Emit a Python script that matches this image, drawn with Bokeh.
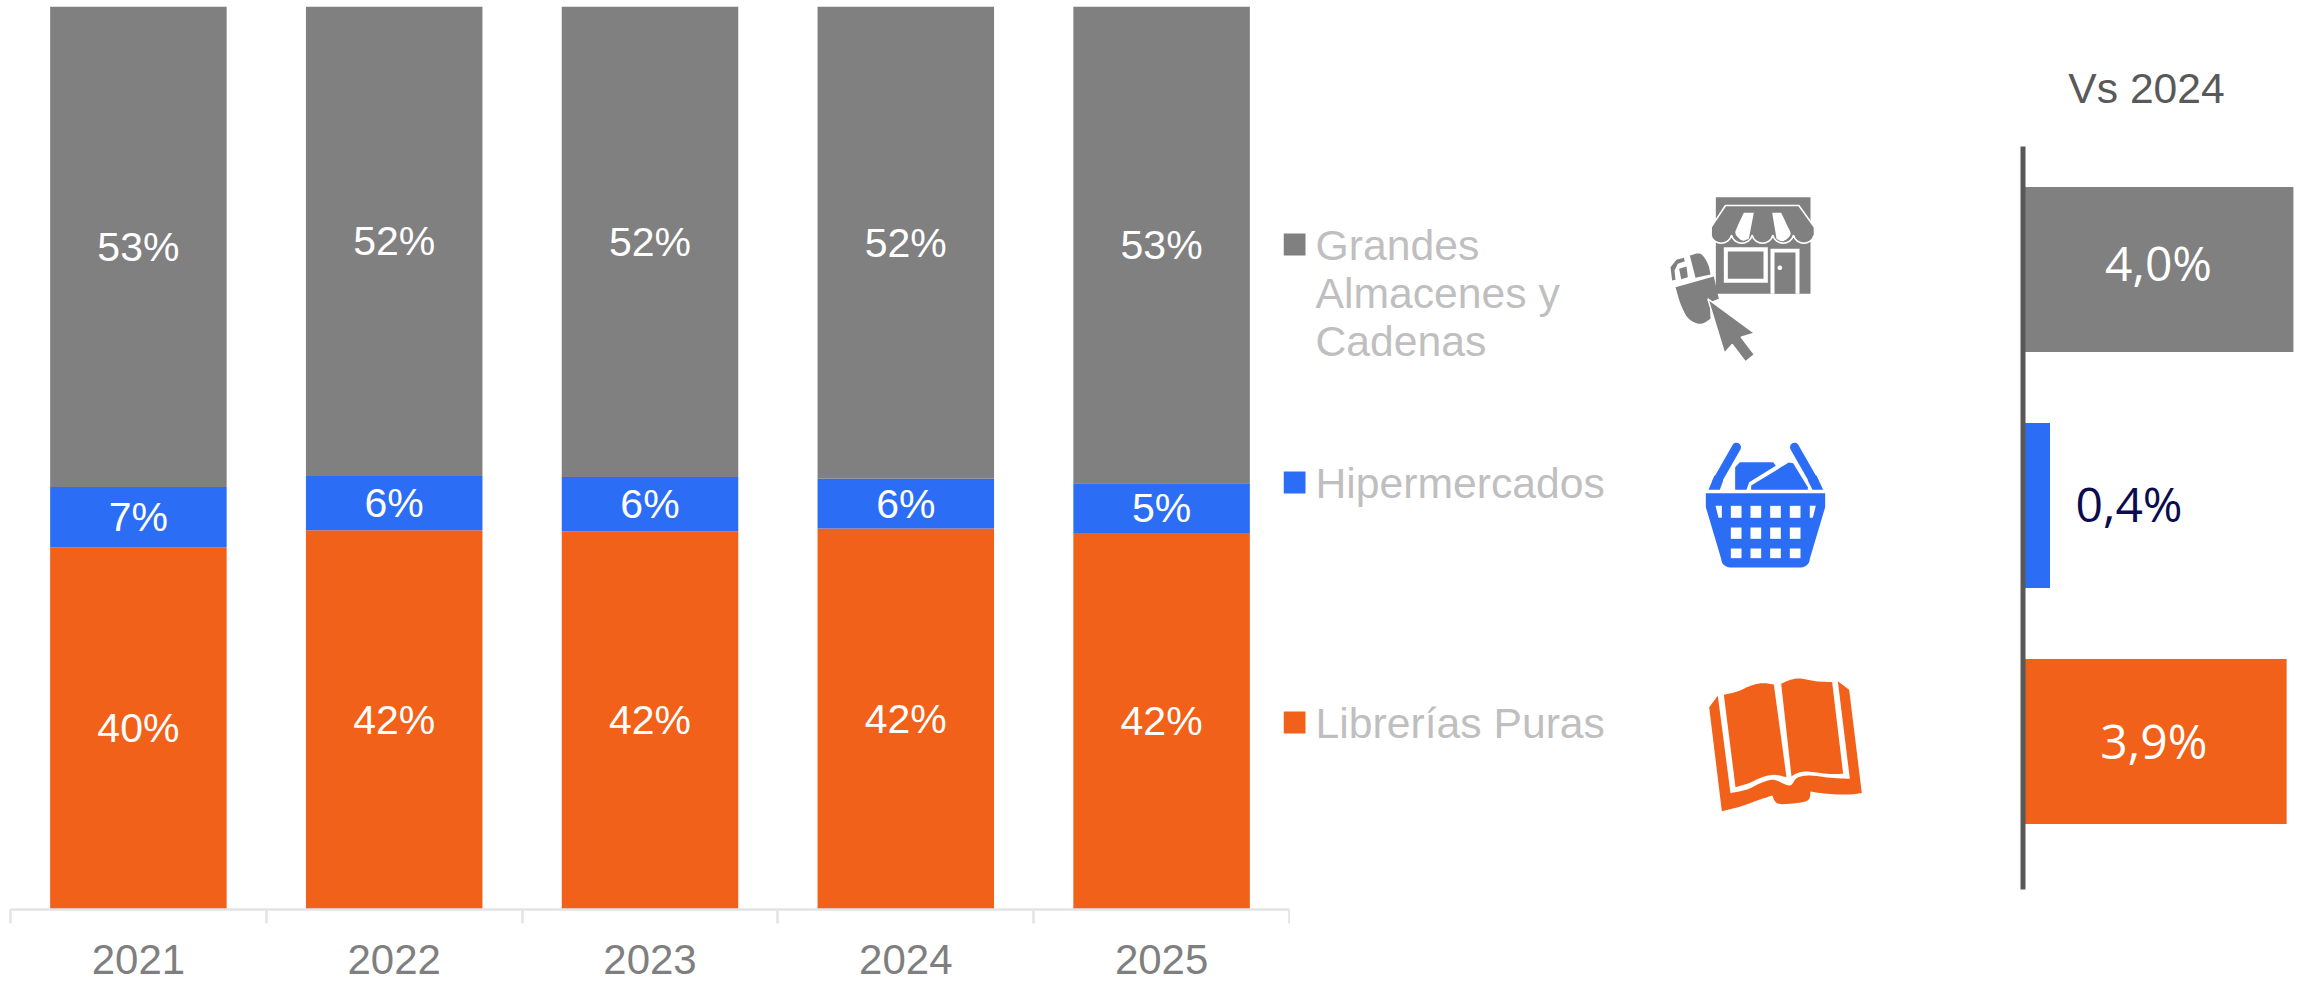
import math
from bokeh.plotting import figure
from bokeh.layouts import row
from bokeh.embed import file_html
from bokeh.resources import INLINE
from bokeh.core.properties import value
from bokeh.models import ColumnDataSource, Range1d, LinearAxis, FixedTicker

years = ["2021", "2022", "2023", "2024", "2025"]
librerias = [40.1, 42.0, 41.9, 42.2, 41.7]
hiper = [6.7, 6.0, 6.0, 5.5, 5.5]
grandes = [53.2, 52.0, 52.1, 52.3, 52.8]
librerias_lbl = ["40%", "42%", "42%", "42%", "42%"]
hiper_lbl = ["7%", "6%", "6%", "6%", "5%"]
grandes_lbl = ["53%", "52%", "52%", "52%", "53%"]

legend_lines = [["Grandes", "Almacenes y", "Cadenas"], ["Hipermercados"], ["Librerías Puras"]]
vs_title = "Vs 2024"
vs_values = [4.0, 0.4, 3.9]
vs_labels = ["4,0%", "0,4%", "3,9%"]

GRAY, BLUE, ORANGE = "#808080", "#2c6df6", "#f16119"
ARIAL = value("Liberation Sans")
H = 982

# ---------------- stacked columns ----------------
AXIS_Y, TOP_Y, L_LEFT, L_RIGHT = 909, 6, 10, 1289
COMMON = dict(height=H, x_axis_location=None, y_axis_location=None, output_backend="svg", toolbar_location=None,
              min_border_top=TOP_Y, min_border_bottom=H - AXIS_Y, outline_line_color=None,
              border_fill_color=None, background_fill_color=None)
left = figure(width=1290, x_range=Range1d(0, len(years)), y_range=Range1d(0, 100),
              min_border_left=L_LEFT, min_border_right=1290 - L_RIGHT, margin=(0, -7, 0, 0), **COMMON)
left.grid.visible = False
centers = [i + 0.5 for i in range(len(years))]
src = ColumnDataSource(dict(x=centers, lib=librerias, hip=hiper, gra=grandes))
left.vbar_stack(["lib", "hip", "gra"], x="x", width=0.69, color=[ORANGE, BLUE, GRAY], line_width=0, source=src)

def seg_labels(bottoms, vals, lbls):
    mids = [b + v / 2 for b, v in zip(bottoms, vals)]
    left.text(x=centers, y=mids, text=lbls, text_color="white", text_font=ARIAL, text_font_size="41px",
              text_align="center", text_baseline="middle")

seg_labels([0] * 5, librerias, librerias_lbl)
seg_labels(librerias, hiper, hiper_lbl)
seg_labels([a + b for a, b in zip(librerias, hiper)], grandes, grandes_lbl)

edges = list(range(len(years) + 1))
tick_axis = LinearAxis(ticker=FixedTicker(ticks=edges), major_label_overrides={i: "" for i in edges},
                       major_label_text_font_size="1px", major_label_standoff=0,
                       axis_line_color="#e3e3e3", axis_line_width=2.5, major_tick_line_color="#e3e3e3",
                       major_tick_line_width=2.5, major_tick_out=14, major_tick_in=0, minor_tick_line_color=None)
left.add_layout(tick_axis, "below")
year_axis = LinearAxis(ticker=FixedTicker(ticks=centers), major_label_overrides=dict(zip(centers, years)),
                       axis_line_color=None, major_tick_line_color=None,
                       minor_tick_line_color=None, major_label_text_color="#7f7f7f",
                       major_label_text_font="Liberation Sans", major_label_text_font_size="42px",
                       major_label_standoff=15)
left.add_layout(year_axis, "below")

# ---------------- legend + pictograms ----------------
M_X0, M_X1 = 1283, 2010
mid = figure(width=M_X1 - M_X0, x_range=Range1d(M_X0, M_X1), y_range=Range1d(AXIS_Y, TOP_Y),
             min_border_left=0, min_border_right=0, **COMMON)
mid.grid.visible = False
sq_y = [244, 482, 722]
for lines, col, y0 in zip(legend_lines, [GRAY, BLUE, ORANGE], sq_y):
    mid.rect(x=[1294], y=[y0], width=22, height=22, color=col, line_width=0)
    mid.text(x=[1315] * len(lines), y=[y0 + i * 48 for i in range(len(lines))], text=lines,
             text_color="#bfbfbf", text_font=ARIAL, text_font_size="42.7px", text_baseline="middle")

def poly(pts, ox, oy, col, **kw):
    mid.patch([ox + p[0] / 3 for p in pts], [oy + p[1] / 3 for p in pts], fill_color=col,
              line_color=kw.get("lc", None), line_width=kw.get("lw", 0))

def stroke(pts, ox, oy, col, w):
    mid.line([ox + p[0] / 3 for p in pts], [oy + p[1] / 3 for p in pts], line_color=col, line_width=w, line_cap="round")

def rrect(x0, y0, x1, y1):
    return [(x0, y0), (x1, y0), (x1, y1), (x0, y1)]

def arc(cx, cy, rx, ry, a0, a1, n=14):
    return [(cx + rx * math.cos(math.radians(a0 + (a1 - a0) * i / n)),
             cy + ry * math.sin(math.radians(a0 + (a1 - a0) * i / n))) for i in range(n + 1)]

def smooth(pts, n=6):
    """Catmull-Rom curve through an icon's outline points."""
    p = [pts[0]] + list(pts) + [pts[-1]]
    out = []
    for i in range(1, len(p) - 2):
        for k in range(n):
            t = k / n
            out.append(tuple(0.5 * (2 * p[i][d] + (p[i + 1][d] - p[i - 1][d]) * t
                                    + (2 * p[i - 1][d] - 5 * p[i][d] + 4 * p[i + 1][d] - p[i + 2][d]) * t * t
                                    + (3 * p[i][d] - p[i - 1][d] - 3 * p[i + 1][d] + p[i + 2][d]) * t ** 3)
                             for d in (0, 1)))
    out.append(pts[-1])
    return out

# shop + mouse
sx, sy = 1650, 170
poly(rrect(196, 80, 480, 370), sx, sy, GRAY)
poly(rrect(220, 230, 352, 337), sx, sy, "white")
poly(rrect(232, 243, 339, 325), sx, sy, GRAY)
poly(rrect(360, 235, 447, 370), sx, sy, "white")
poly(rrect(372, 246, 435, 370), sx, sy, GRAY)
poly(arc(388, 292, 7, 7, 0, 360), sx, sy, "white")
aw = [(225, 105), (445, 105), (492, 170), (492, 195)]
for cx in (460, 398, 336, 274, 212):
    aw += arc(cx, 190, 31, 28, 10, 170, 8)
aw += [(182, 195), (182, 170)]
poly(aw, sx, sy, GRAY, lc="white", lw=1.6)
poly(smooth([(280, 127), (262, 165), (255, 190), (275, 210), (295, 205)]) + [(310, 127)], sx, sy, "white")
poly([(365, 127)] + smooth([(378, 205), (398, 212), (420, 192), (410, 165), (392, 127)]), sx, sy, "white")
m1 = [(75, 350), (190, 318), (205, 385), (178, 395), (180, 445)] + smooth([(180, 445), (150, 460), (115, 445), (92, 405), (75, 350)])
poly(m1, sx, sy, GRAY)
poly(smooth([(118, 255), (150, 250), (172, 280), (180, 312)]) + [(135, 322)], sx, sy, GRAY)
poly([(65, 330), (60, 290), (78, 268), (100, 262), (103, 272), (82, 280), (72, 300), (75, 328)], sx, sy, GRAY)
poly([(86, 295), (108, 288), (112, 320), (92, 326)], sx, sy, GRAY)
poly([(172, 385), (312, 488), (272, 500), (312, 552), (285, 574), (245, 522), (222, 548)], sx, sy, GRAY, lc="white", lw=1.5)

# basket
bx, by = 1680, 430
stroke([(168, 50), (108, 155)], bx, by, BLUE, 9)
stroke([(342, 50), (402, 155)], bx, by, BLUE, 9)
poly([(84, 178), (118, 178), (128, 150), (102, 135)], bx, by, BLUE)
poly([(428, 178), (396, 178), (382, 150), (408, 135)], bx, by, BLUE)
poly([(164, 178), (164, 110), (178, 95), (278, 95), (286, 106), (206, 155), (198, 178)], bx, by, BLUE)
poly([(212, 178), (212, 165), (325, 96), (338, 98), (382, 170), (382, 178)], bx, by, BLUE)
body = [(76, 188), (434, 188), (434, 230), (388, 385)] + arc(360, 385, 28, 26, 0, 90, 6) + arc(150, 385, 28, 26, 90, 180, 6) + [(76, 230)]
poly(body, bx, by, BLUE)
for cx0 in (151, 210, 269, 328):
    for y0, y1 in ((226, 262), (291, 325), (354, 383)):
        poly(rrect(cx0, y0, cx0 + 32, y1), bx, by, "white")
poly([(105, 226), (124, 226), (124, 262), (114, 262)], bx, by, "white")
poly([(388, 226), (406, 226), (397, 262), (388, 262)], bx, by, "white")

# book
kx, ky = 1690, 660
cover = ([(56, 140), (82, 106)]
         + smooth([(120, 398), (170, 387), (210, 368), (250, 358), (297, 375), (320, 352), (360, 345), (420, 352), (478, 355)])
         + [(442, 62), (476, 88)]
         + smooth([(514, 398), (470, 402), (410, 400), (360, 393)])
         + smooth([(360, 393), (356, 415), (335, 425), (265, 430), (245, 405)])
         + smooth([(245, 405), (200, 420), (150, 438), (94, 452)]))
poly(cover, kx, ky, ORANGE)
poly(smooth([(100, 103), (140, 93), (180, 76), (215, 68), (250, 72)])
     + smooth([(288, 350), (250, 343), (215, 350), (175, 368), (135, 380)]), kx, ky, ORANGE)
poly(smooth([(272, 70), (300, 58), (330, 54), (375, 62), (425, 65)])
     + smooth([(458, 340), (410, 340), (350, 333), (320, 338), (303, 348)]), kx, ky, ORANGE)

# ---------------- Vs 2024 bars ----------------
R_X0 = 2010
FRAME_L, UNIT_X, UNIT_Y, Y_MID = 2022.5, 67.6, 236, 505
pos = [2, 1, 0]
right = figure(width=2297 - R_X0,
               x_range=Range1d(-(FRAME_L - R_X0) / UNIT_X, (2297 - FRAME_L) / UNIT_X),
               y_range=Range1d((Y_MID - AXIS_Y) / UNIT_Y + 1, (Y_MID - TOP_Y) / UNIT_Y + 1),
               min_border_left=0, min_border_right=0, **COMMON)
right.grid.visible = False
right.hbar(y=pos, left=0, right=vs_values, height=0.70, color=[GRAY, BLUE, ORANGE], line_width=0)
# baseline drawn on top of the bars
right.segment(x0=[0], x1=[0], y0=[(Y_MID - 889) / UNIT_Y + 1], y1=[(Y_MID - 146) / UNIT_Y + 1],
              line_color="#595959", line_width=5)
SANS = value("Open Sans")
right.text(x=[2.02, 0.4, 1.95], y=pos, text=vs_labels, text_color=["white", "#0b0b4f", "white"], text_font=SANS,
           text_font_size="48px", text_align="center", text_baseline="middle",
           x_offset=[-1, 79, -1], y_offset=[-7, -2, -1])
right.text(x=[(2146 - FRAME_L) / UNIT_X], y=[(Y_MID - 90) / UNIT_Y + 1], text=[vs_title], text_color="#595959",
           text_font=ARIAL, text_font_size="42.6px", text_align="center", text_baseline="middle", y_offset=[-3])

page = row(left, mid, right, spacing=0)
open("out.html", "w").write(file_html(page, INLINE))
